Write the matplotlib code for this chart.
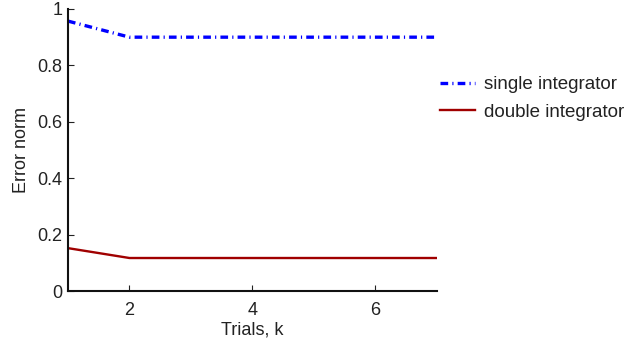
import matplotlib
matplotlib.use("Agg")
import matplotlib.pyplot as plt

plt.rcParams['font.family'] = ['Liberation Sans', 'DejaVu Sans']

trials = [1, 2, 3, 4, 5, 6, 7]
single_integrator = [0.957, 0.900, 0.900, 0.900, 0.900, 0.900, 0.900]
double_integrator = [0.152, 0.117, 0.117, 0.117, 0.117, 0.117, 0.117]
xticks = [2, 4, 6]
yticks = [0, 0.2, 0.4, 0.6, 0.8, 1]
ytick_labels = ['0', '0.2', '0.4', '0.6', '0.8', '1']

fig = plt.figure(figsize=(6.26, 3.45), dpi=100)
ax = fig.add_axes([0.1086, 0.1565, 0.5894, 0.8175])

ax.plot(trials, single_integrator, color='#0000ff',
        linestyle=(0, (2.3, 1.25, 0.35, 1.25)), linewidth=2.4,
        label='single integrator')
ax.plot(trials, double_integrator, color='#a00000', linestyle='-', linewidth=1.7,
        label='double integrator')

ax.set_xlim(1, 7)
ax.set_ylim(0, 1)
ax.set_xticks(xticks)
ax.set_yticks(yticks)
ax.set_yticklabels(ytick_labels)
ax.spines['top'].set_visible(False)
ax.spines['right'].set_visible(False)
for s in ('left', 'bottom'):
    ax.spines[s].set_linewidth(1.5)
    ax.spines[s].set_color('#111111')
ax.tick_params(direction='in', length=4, width=0.8, labelsize=13, colors='#222222')
ax.tick_params(axis='x', pad=8)
ax.tick_params(axis='y', pad=4)
ax.set_xlabel('Trials, k', fontsize=13, color='#222222', labelpad=1.5)
ax.set_ylabel('Error norm', fontsize=13, color='#222222', labelpad=5)

fig.legend(*ax.get_legend_handles_labels(), loc='center left',
           bbox_to_anchor=(440 / 626, 1 - 98.5 / 345), frameon=False, fontsize=13.5,
           borderpad=0, borderaxespad=0, handlelength=1.87, handletextpad=0.5,
           labelspacing=0.55, labelcolor='#222222')

fig.savefig('out.png', dpi=100)
